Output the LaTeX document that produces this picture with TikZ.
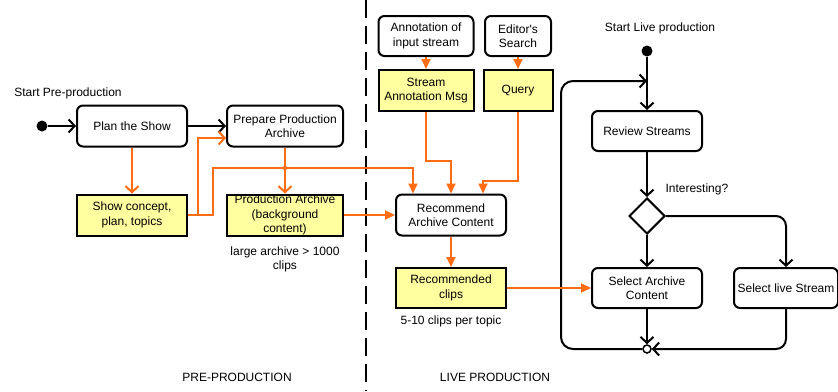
\documentclass[tikz,border=0pt]{standalone}
\usepackage{fontspec}
\setmainfont{Liberation Sans}
\usepackage{xcolor}
\usepackage{tikz}
\usetikzlibrary{arrows.meta}
\usetikzlibrary{positioning, shapes.geometric}

\definecolor{objyellow}{RGB}{255,255,160}
\definecolor{flowor}{RGB}{255,108,18}

\begin{document}
\begin{tikzpicture}[
  x=1pt, y=-1pt,
  every node/.style={font=\fontsize{12}{14.5}\selectfont,align=center},
  act/.style={rectangle,draw,rounded corners=6pt,line width=2pt,minimum height=41pt,inner sep=1pt},
  obj/.style={rectangle,draw,fill=objyellow,line width=2pt,minimum height=41pt,inner sep=1pt},
  dot/.style={circle,fill,minimum size=11pt,inner sep=0pt},
  flow/.style={line width=2pt,-{Straight Barb[length=6pt,width=13pt]}},
  oflow/.style={flowor,line width=2pt,-{Triangle[length=10pt,width=9pt]}},
  ovee/.style={flowor,line width=2pt,-{Straight Barb[length=6pt,width=13pt]}}
]
  \useasboundingbox (0,0) rectangle (838,391);

  % pre-production
  \node[dot] (start) at (42,126) {};
  \node (startlbl) at (68,93) {Start Pre-production};
  \node[act,minimum width=110pt] (plan) at (132,126) {Plan the Show};
  \node[act,minimum width=116pt] (prep) at (285,126) {Prepare Production\\Archive};
  \node[obj,minimum width=110pt] (concept) at (132,215) {Show concept,\\plan, topics};
  \node[obj,minimum width=116pt,inner ysep=0pt] (parch) at (285,215) {Production Archive\\(background\\content)};
  \node (archlbl) at (285,259.5) {large archive > 1000\\clips};

  % live production, archive side
  \node[act,minimum width=95pt,minimum height=40pt] (annot) at (426,36) {Annotation of\\input stream};
  \node[act,minimum width=66pt,minimum height=40pt] (search) at (518,36) {Editor\textquotesingle s\\Search};
  \node[obj,minimum width=95pt] (sam) at (426,90.5) {Stream\\Annotation Msg};
  \node[obj,minimum width=69pt] (query) at (518,90.5) {Query};
  \node[act,minimum width=110pt] (recomm) at (451,215) {Recommend\\Archive Content};
  \node[obj,minimum width=110pt,minimum height=40pt] (clips) at (451,288) {Recommended\\clips};
  \node (clipslbl) at (451,321) {5-10 clips per topic};

  % live production, stream side
  \node (livelbl) at (660,28) {Start Live production};
  \node[dot] (livestart) at (647,51) {};
  \coordinate (looptop) at (647,81);
  \coordinate (loopleft) at (561,215);
  \node[act,minimum width=110pt,minimum height=40pt] (review) at (647,131) {Review Streams};
  \node[diamond,draw,line width=2pt,minimum size=36pt,inner sep=0pt] (decide) at (647,216) {};
  \node[anchor=west] (intlbl) at (662,189) {Interesting?};
  \node[act,minimum width=110pt,minimum height=40pt] (selarch) at (647,288) {Select Archive\\Content};
  \node[act,minimum width=104pt,minimum height=40pt] (sellive) at (786,288) {Select live Stream};
  \node[circle,draw,fill=white,line width=1.5pt,minimum size=8pt,inner sep=0pt] (merge) at (647,349) {};

  \node (prelbl) at (237,377) {PRE-PRODUCTION};
  \node (livelbl2) at (495,377) {LIVE PRODUCTION};

  % divider
  \coordinate (divtop) at (366,0);
  \coordinate (divbot) at (366,391);
  \draw[line width=2pt,dash pattern=on 18pt off 8pt] (divtop) -- (divbot);

  % control flow
  \draw[flow] (start) -- (plan);
  \draw[flow] (plan) -- (prep);
  \draw[line width=2pt] (livestart) -- (looptop);
  \draw[flow] (looptop) -- (review);
  \draw[flow] (review) -- (decide);
  \draw[flow] (decide) -- (selarch);
  \draw[flow,rounded corners=10pt] (decide.east) -| (sellive.north);
  \draw[flow] (selarch) -- (merge);
  \draw[flow,rounded corners=10pt] (sellive.south) |- (merge.east);
  \draw[flow,rounded corners=12pt] (merge.west) -| (loopleft) |- (looptop);

  % object flow
  \draw[ovee] (plan) -- (concept);
  \draw[ovee] (concept.east) -- ++(10,0) |- ([yshift=-12pt]prep.west);
  \draw[oflow] (concept.east) -- ++(25,0) |- (413,168) -- (recomm.north -| 413,0);
  \draw[ovee] (prep) -- (parch);
  \fill[flowor] (285,168) circle (2.2pt);
  \draw[oflow] (parch) -- (recomm);
  \draw[oflow] (annot) -- (sam);
  \draw[oflow] (search) -- (query);
  \draw[oflow] (sam.south) -- ++(0,49) -| (recomm.north);
  \draw[oflow] (query.south) -- ++(0,69) -| (recomm.north -| 483,0);
  \draw[oflow] (recomm) -- (clips);
  \draw[oflow] (clips) -- (selarch);
\end{tikzpicture}
\end{document}
